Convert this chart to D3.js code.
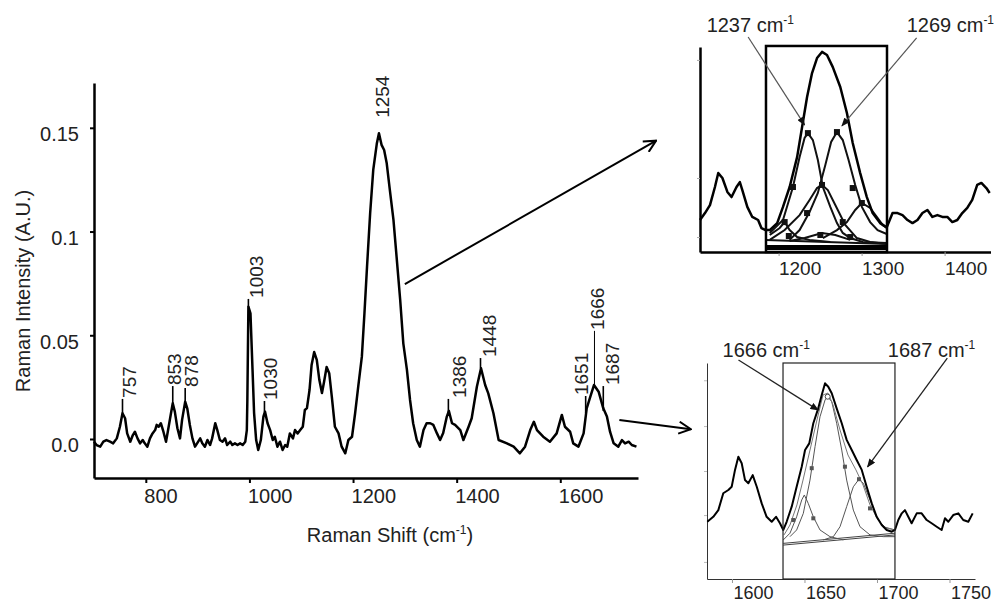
<!DOCTYPE html>
<meta charset="utf-8">
<body style="margin:0;background:#fff">
<script src="https://d3js.org/d3.v7.min.js"></script>
<script>

// ---- main spectrum ----
var shift = [700,705,712,718,724,731,737,744,750,755,760,764,770,775,779,784,789,794,798,803,
  808,813,818,821,825,829,834,839,843,848,852,856,861,866,870,876,880,885,890,895,
  899,905,909,914,919,924,928,934,938,943,948,953,957,963,967,972,977,982,987,992,
  995,996,998,1002,1006,1009,1013,1017,1022,1027,1030,1035,1040,1045,1049,1054,1059,1064,1069,1073,
  1078,1084,1088,1093,1098,1103,1107,1111,1116,1120,1125,1130,1135,1140,1144,1149,1154,1159,1165,1172,
  1178,1185,1191,1198,1204,1210,1217,1222,1227,1233,1239,1246,1250,1255,1260,1265,1271,1278,1284,1291,
  1297,1304,1310,1316,1323,1329,1336,1342,1349,1355,1362,1368,1374,1381,1385,1391,1397,1407,1413,1423,
  1429,1439,1447,1455,1461,1471,1481,1497,1510,1522,1532,1542,1549,1555,1567,1580,1593,1603,1609,1619,
  1625,1635,1645,1651,1658,1665,1674,1683,1690,1696,1703,1712,1719,1725,1732,1738,1747];
var intensity = [-0.0013,-0.0029,-0.0037,-0.0013,-0.0005,-0.0013,-0.0021,0.0003,0.0059,0.0124,0.0100,0.0027,-0.0013,0.0019,0.0035,0.0003,-0.0021,-0.0005,-0.0021,-0.0037,
  0.0003,0.0027,0.0043,0.0068,0.0059,0.0076,0.0035,-0.0013,0.0043,0.0116,0.0172,0.0132,0.0052,0.0003,0.0092,0.0180,0.0148,0.0068,0.0003,-0.0037,
  -0.0021,0.0003,-0.0021,-0.0037,-0.0005,-0.0029,0.0003,0.0076,0.0043,-0.0005,-0.0013,0.0003,-0.0029,-0.0013,-0.0029,-0.0021,-0.0029,-0.0021,-0.0029,-0.0013,
  0.0043,0.0188,0.0638,0.0606,0.0333,0.0125,-0.0005,-0.0053,-0.0005,0.0108,0.0132,0.0076,0.0043,-0.0005,0.0011,-0.0037,-0.0013,-0.0053,-0.0029,-0.0037,
  0.0027,0.0003,0.0043,0.0027,0.0043,0.0059,0.0140,0.0149,0.0236,0.0357,0.0419,0.0381,0.0284,0.0222,0.0275,0.0347,0.0317,0.0204,0.0059,0.0027,
  -0.0037,-0.0069,-0.0005,0.0011,0.0124,0.0252,0.0397,0.0606,0.0831,0.1088,0.1297,0.1426,0.1474,0.1418,0.1393,0.1329,0.1201,0.1056,0.0879,0.0670,
  0.0461,0.0333,0.0188,0.0076,-0.0005,-0.0037,0.0043,0.0076,0.0076,0.0068,0.0027,-0.0005,0.0029,0.0108,0.0135,0.0076,0.0068,0.0043,-0.0005,0.0059,
  0.0100,0.0252,0.0341,0.0260,0.0220,0.0124,-0.0005,-0.0021,-0.0037,-0.0069,-0.0037,0.0043,0.0083,0.0043,0.0011,-0.0013,0.0027,0.0116,0.0059,0.0035,
  -0.0021,-0.0037,0.0027,0.0148,0.0204,0.0260,0.0228,0.0148,0.0108,0.0035,-0.0021,-0.0037,-0.0005,-0.0021,-0.0013,-0.0029,-0.0037];

var xTickValues = [800, 1000, 1200, 1400, 1600];
var yTickValues = [0, 0.05, 0.1, 0.15];
var yTickLabels = ["0.0", "0.05", "0.1", "0.15"];

// peak annotations
var peakNames    = ["757","853","878","1003","1030","1254","1386","1448","1651","1666","1687"];
var peakAt       = [755, 852, 876, 998, 1029, 1250, 1384, 1446, 1649, 1666, 1683];
var peakTextAt   = [767, 854, 888, 1013, 1040, 1256, 1404, 1462, 1641, 1672, 1700];
var peakTextBase = [0.0198, 0.0260, 0.0251, 0.0680, 0.0188, 0.1548, 0.0198, 0.0395, 0.0212, 0.0526, 0.0260];
var peakLineEnd  = [0.0124, 0.0172, 0.0180, 0.0636, 0.0132, 0.1548, 0.0130, 0.0341, 0.0125, 0.0262, 0.0135];

// arrows pointing to the insets, [shift, intensity]
var arrowToTop    = [[1300, 0.0747], [1785, 0.1438]];
var arrowToBottom = [[1714, 0.0092], [1852, 0.0047]];

// ---- inset 1: 1160-1305 band fit ----
var inset1Spectrum = [[1080,15.6],[1086,19.0],[1092,22.9],[1098,31.7],[1102,38.5],[1107,36.1],[1113,29.3],[1118,26.8],
  [1124,31.7],[1128,34.1],[1131,30.2],[1137,22.0],[1143,17.1],[1150,15.6],[1154,11.7],[1159,10.7],
  [1164,10.7],[1173,14.1],[1180,22.0],[1188,31.7],[1197,46.3],[1203,61.0],[1209,75.6],[1215,87.3],[1221,94.6],
  [1227,97.6],[1233,96.1],[1240,90.2],[1249,80.5],[1257,67.8],[1264,53.2],[1273,38.5],[1281,26.8],[1288,19.0],
  [1297,14.1],[1305,12.0],[1312,19.0],[1318,19.0],[1324,18.0],[1330,15.6],[1336,14.1],[1342,15.6],[1348,19.0],
  [1354,20.5],[1360,17.1],[1366,18.0],[1372,17.1],[1378,17.1],[1384,14.6],[1390,15.6],[1396,19.0],[1402,21.5],
  [1408,25.4],[1414,32.7],[1419,33.7],[1425,31.2],[1429,28.8]];
var inset1Band1237 = [[1164,9.3],[1180,15.6],[1192,31.7],[1200,46.3],[1206,55.6],[1210,58.0],[1216,54.6],[1222,44.9],
  [1228,31.7],[1237,22.0],[1245,14.1],[1252,9.3],[1261,6.8],[1276,4.9],[1305,4.4]];
var inset1Band1269 = [[1188,5.9],[1200,10.7],[1212,19.5],[1222,28.8],[1231,42.4],[1238,53.7],[1245,58.5],[1252,54.6],
  [1259,44.9],[1267,32.7],[1275,22.0],[1285,14.6],[1294,10.7],[1305,8.8]];
var inset1BandMid = [[1164,5.9],[1182,10.7],[1200,18.0],[1212,25.4],[1221,31.2],[1227,32.7],[1234,30.2],[1243,22.9],
  [1255,13.2],[1269,6.8],[1285,4.9],[1305,3.9]];
var inset1BandRight = [[1228,6.8],[1245,10.7],[1257,14.6],[1267,20.5],[1275,23.9],[1285,21.5],[1293,17.1],[1300,13.2],[1305,11.7]];
var inset1BandLeft = [[1164,8.3],[1176,11.7],[1182,14.6],[1188,10.7],[1197,7.3],[1212,5.9],[1237,4.9]];
var inset1BandLow = [[1188,5.4],[1206,6.8],[1227,9.3],[1243,8.3],[1261,5.9]];
var inset1Baseline = [[1159.5,5.9],[1305.3,3.9]];
var inset1Squares = [[1182,14.6],[1210,58.0],[1245,58.5],[1227,32.7],[1209,19.0],[1264,31.2],[1192,31.7],
  [1275,23.9],[1225,8.3],[1252,14.6],[1187,7.8],[1261,7.3]];
var inset1Box = [1159.5, 1305.3];
var inset1Ticks = [1200, 1300, 1400];
var inset1YTicks = [7.3, 36.1, 93.7];
var inset1Notes = [{text: "1237", at: [1088, 107.3], from: [1138, 104.9], to: [1206, 62.0]},
                   {text: "1269", at: [1329, 107.3], from: [1341, 104.4], to: [1251, 61.5]}];

// ---- inset 2: amide I fit ----
var inset2Spectrum = [[1568.5,26.5],[1572.6,28.8],[1576.1,31.9],[1579.5,39.7],[1583.0,41.2],[1585.3,42.7],[1587.6,50.5],
  [1589.9,56.6],[1592.2,53.6],[1594.5,45.8],[1596.8,44.3],[1599.8,48.1],[1602.6,42.7],[1606.0,35.0],[1609.4,28.8],
  [1612.9,26.5],[1615.9,28.8],[1618.6,25.8],[1620.9,22.7],[1623.2,26.5],[1626.7,33.5],[1630.1,42.7],[1633.6,52.0],
  [1635.9,59.7],[1638.8,62.8],[1641.6,72.1],[1645.0,79.0],[1647.4,85.2],[1649.7,90.6],[1651.9,89.0],[1654.3,86.0],
  [1657.7,79.0],[1661.2,72.1],[1664.6,64.4],[1668.1,59.7],[1671.5,55.1],[1675.0,50.5],[1678.4,42.7],[1681.9,35.0],
  [1685.3,28.8],[1688.8,25.0],[1692.2,22.7],[1695.7,21.9],[1697.9,22.7],[1700.2,27.3],[1702.6,30.4],[1704.8,31.9],
  [1707.1,28.8],[1709.4,25.8],[1712.9,30.4],[1716.3,30.4],[1719.8,27.3],[1723.2,25.8],[1726.7,24.2],[1730.1,22.7],
  [1732.4,28.1],[1734.7,26.5],[1738.1,29.6],[1741.6,30.4],[1745.0,27.3],[1748.5,26.5],[1751.5,30.4]];
var inset2Sum = [[1621.4,20.4],[1625.5,25.0],[1630.3,34.3],[1634.5,45.8],[1639.3,59.7],[1644.1,73.6],[1648.3,85.2],
  [1651.7,86.1],[1655.2,80.6],[1660.0,69.0],[1665.5,57.4],[1671.0,50.5],[1675.9,43.5],[1680.7,34.3],[1686.2,27.3],
  [1691.7,23.6],[1697.9,22.7]];
var inset2Band1666 = [[1625.5,19.6],[1630.1,22.7],[1634.7,30.4],[1639.3,45.8],[1642.8,61.3],[1646.2,75.1],[1649.7,82.9],
  [1651.5,84.4],[1654.3,82.1],[1657.7,72.1],[1661.2,59.7],[1664.6,45.8],[1669.2,31.9],[1673.8,24.2],[1680.7,20.4],
  [1689.9,19.6],[1697.9,19.6]];
var inset2Band1651 = [[1620.9,18.1],[1625.5,21.2],[1630.1,28.8],[1633.6,36.6],[1635.4,38.9],[1638.1,35.0],[1641.6,28.8],
  [1646.2,22.7],[1653.1,19.6],[1662.3,18.1]];
var inset2Band1687 = [[1648.5,18.1],[1655.4,19.6],[1660.0,24.2],[1664.6,33.5],[1669.2,42.7],[1673.1,46.2],[1676.1,44.3],
  [1680.7,36.6],[1685.3,28.8],[1689.9,24.2],[1697.9,22.7]];
var inset2Baselines = [[[1620.9,16.5],[1697.9,21.2]], [[1620.9,15.7],[1697.9,20.4]]];
var inset2Squares = [[1627.8,27.3],[1641.6,28.1],[1640.5,51.3],[1663.4,52.0],[1673.1,46.2],[1680.7,32.7]];
var inset2Box = [1620.7, 1697.9];
var inset2Ticks = [1600, 1650, 1700, 1750];
var inset2YTicks = [7.9, 29.6, 50, 70.8, 92];
var inset2Notes = [{text: "1666", at: [1579, 102.8], from: [1590, 101.4], to: [1645, 78.2]},
                   {text: "1687", at: [1693, 102.8], from: [1734, 102.3], to: [1679, 51.9]}];

var font = "'Liberation Sans', Arial, sans-serif";
var plain = d3.format("d");

var svg = d3.select("body").append("svg")
    .attr("width", 999)
    .attr("height", 608)
    .style("font-family", font);

// arrow heads
var defs = svg.append("defs");
defs.append("marker")
    .attr("id", "openHead")
    .attr("markerUnits", "userSpaceOnUse")
    .attr("viewBox", "0 0 14 14")
    .attr("refX", 13).attr("refY", 7)
    .attr("markerWidth", 14).attr("markerHeight", 14)
    .attr("orient", "auto")
  .append("path")
    .attr("d", "M1,1 L13,7 L1,13")
    .attr("fill", "none")
    .attr("stroke", "#000")
    .attr("stroke-width", 2);
defs.append("marker")
    .attr("id", "fillHead")
    .attr("markerUnits", "userSpaceOnUse")
    .attr("viewBox", "0 0 10 8")
    .attr("refX", 9).attr("refY", 4)
    .attr("markerWidth", 9).attr("markerHeight", 7)
    .attr("orient", "auto")
  .append("path")
    .attr("d", "M0,0 L10,4 L0,8 Z")
    .attr("fill", "#111");

// small superscript helper: "... cm-1"
function cmText(sel, lead, size) {
  sel.append("tspan").text(lead + " cm");
  sel.append("tspan").text("-1").attr("font-size", Math.round(size * 0.62)).attr("dy", -size * 0.42);
}

// ================= main chart =================
var x = d3.scaleLinear().domain([700, 1750]).range([94, 638]);
var y = d3.scaleLinear().domain([-0.0188, 0.1716]).range([478, 83]);

var main = svg.append("g");

var yAxis = main.append("g")
    .attr("transform", "translate(94,0)")
    .call(d3.axisLeft(y)
      .tickValues(yTickValues)
      .tickFormat(function(d, i) { return yTickLabels[i]; })
      .tickSize(4).tickPadding(11).tickSizeOuter(0));
yAxis.select(".domain").attr("stroke-width", 2.5);
yAxis.selectAll(".tick line").attr("stroke-width", 2);
yAxis.selectAll("text").attr("font-size", 20).attr("font-family", font).attr("fill", "#222").attr("dy", "0.64em");

var xAxis = main.append("g")
    .attr("transform", "translate(0,478)")
    .call(d3.axisBottom(x)
      .tickValues(xTickValues)
      .tickFormat(plain)
      .tickSize(5).tickPadding(6).tickSizeOuter(0));
xAxis.select(".domain").attr("stroke-width", 2.5);
xAxis.selectAll(".tick line").attr("stroke-width", 2);
xAxis.selectAll("text").attr("font-size", 20).attr("font-family", font).attr("fill", "#222")
    .attr("text-anchor", "start").attr("dx", -2);

// axis titles
var xTitle = main.append("text")
    .attr("x", 390).attr("y", 542)
    .attr("text-anchor", "middle")
    .attr("font-size", 20)
    .attr("fill", "#222");
xTitle.append("tspan").text("Raman Shift (cm");
xTitle.append("tspan").text("-1").attr("font-size", 12).attr("dy", -8);
xTitle.append("tspan").text(")").attr("dy", 8);

main.append("text")
    .attr("transform", "translate(30,291) rotate(-90)")
    .attr("text-anchor", "middle")
    .attr("font-size", 20)
    .attr("fill", "#222")
    .text("Raman Intensity (A.U.)");

// spectrum
var line = d3.line()
    .x(function(d, i) { return x(shift[i]); })
    .y(function(d) { return y(d); });

main.append("path")
    .datum(intensity)
    .attr("d", line)
    .attr("fill", "none")
    .attr("stroke", "#000")
    .attr("stroke-width", 2.5)
    .attr("stroke-linejoin", "round");

// peak leaders and labels
main.selectAll(".leader")
    .data(peakNames.filter(function(d, i) { return peakLineEnd[i] < peakTextBase[i]; }))
    .enter().append("line")
    .attr("class", "leader")
    .each(function(d) {
      var i = peakNames.indexOf(d);
      d3.select(this)
        .attr("x1", x(peakAt[i])).attr("x2", x(peakAt[i]))
        .attr("y1", y(peakTextBase[i]) + 1)
        .attr("y2", y(peakLineEnd[i]));
    })
    .attr("stroke", "#000")
    .attr("stroke-width", function(d) { return d === "1666" ? 1 : 1.6; });

main.selectAll(".peak")
    .data(peakNames)
    .enter().append("text")
    .attr("class", "peak")
    .attr("transform", function(d, i) {
      return "translate(" + x(peakTextAt[i]) + "," + y(peakTextBase[i]) + ") rotate(-90)";
    })
    .attr("dy", "0.36em")
    .attr("font-size", 19)
    .attr("fill", "#222")
    .text(function(d) { return d; });

// arrows to insets
[arrowToTop, arrowToBottom].forEach(function(a) {
  main.append("line")
      .attr("x1", x(a[0][0])).attr("y1", y(a[0][1]))
      .attr("x2", x(a[1][0])).attr("y2", y(a[1][1]))
      .attr("stroke", "#000")
      .attr("stroke-width", 2)
      .attr("marker-end", "url(#openHead)");
});

// ================= inset 1 =================
var xTop = d3.scaleLinear().domain([1080, 1430]).range([700, 990.5]);
var yTop = d3.scaleLinear().domain([0, 100]).range([252, 47]);
var g1 = svg.append("g");

var pline1 = d3.line()
    .x(function(d) { return xTop(d[0]); })
    .y(function(d) { return yTop(d[1]); });

var t1 = g1.append("g")
    .attr("transform", "translate(0,252)")
    .call(d3.axisBottom(xTop).tickValues(inset1Ticks).tickFormat(plain).tickSize(4).tickPadding(6).tickSizeOuter(0));
t1.select(".domain").attr("stroke-width", 2.5);
t1.selectAll(".tick line").attr("x1", -21).attr("x2", -21).attr("stroke", "#999");
t1.selectAll("text").attr("font-size", 19).attr("font-family", font).attr("fill", "#222");

var l1 = g1.append("g")
    .attr("transform", "translate(700,0)")
    .call(d3.axisLeft(yTop).tickValues(inset1YTicks).tickFormat("").tickSize(3).tickSizeOuter(0));
l1.select(".domain").attr("stroke-width", 2.5);
l1.selectAll(".tick line").attr("stroke", "#aaa");

[inset1BandLow, inset1BandLeft, inset1BandRight, inset1BandMid, inset1Band1269, inset1Band1237].forEach(function(b) {
  g1.append("path")
      .datum(b)
      .attr("d", pline1)
      .attr("fill", "none")
      .attr("stroke", "#111")
      .attr("stroke-width", 2);
});
g1.append("path")
    .datum(inset1Baseline)
    .attr("d", pline1)
    .attr("fill", "none")
    .attr("stroke", "#111")
    .attr("stroke-width", 2);
g1.append("path")
    .datum(inset1Spectrum)
    .attr("d", pline1)
    .attr("fill", "none")
    .attr("stroke", "#000")
    .attr("stroke-width", 2.5)
    .attr("stroke-linejoin", "round");

g1.selectAll(".sq")
    .data(inset1Squares)
    .enter().append("rect")
    .attr("class", "sq")
    .attr("x", function(d) { return xTop(d[0]) - 3; })
    .attr("y", function(d) { return yTop(d[1]) - 3; })
    .attr("width", 6).attr("height", 6)
    .attr("fill", "#111");

g1.append("rect")
    .attr("x", xTop(inset1Box[0]))
    .attr("y", yTop(100.5))
    .attr("width", xTop(inset1Box[1]) - xTop(inset1Box[0]))
    .attr("height", yTop(0) - yTop(100.5))
    .attr("fill", "none")
    .attr("stroke", "#000")
    .attr("stroke-width", 2.5);
g1.append("line")
    .attr("x1", xTop(inset1Box[0])).attr("x2", xTop(inset1Box[1]))
    .attr("y1", yTop(2.2)).attr("y2", yTop(2.2))
    .attr("stroke", "#000")
    .attr("stroke-width", 5);

inset1Notes.forEach(function(n) {
  g1.append("line")
      .attr("x1", xTop(n.from[0])).attr("y1", yTop(n.from[1]))
      .attr("x2", xTop(n.to[0])).attr("y2", yTop(n.to[1]))
      .attr("stroke", "#555")
      .attr("stroke-width", 1.2)
      .attr("marker-end", "url(#fillHead)");
  var t = g1.append("text")
      .attr("x", xTop(n.at[0])).attr("y", yTop(n.at[1]))
      .attr("font-size", 20)
      .attr("fill", "#222");
  cmText(t, n.text, 20);
});

// ================= inset 2 =================
var xBot = d3.scaleLinear().domain([1600, 1700]).range([753, 898]);
var yBot = d3.scaleLinear().domain([0, 100]).range([579, 363]);
var g2 = svg.append("g");

var pline2 = d3.line()
    .x(function(d) { return xBot(d[0]); })
    .y(function(d) { return yBot(d[1]); });

var t2 = g2.append("g")
    .attr("transform", "translate(0,579)")
    .call(d3.axisBottom(xBot.copy().domain([1568.3, 1753.1]).range([707, 975]))
      .tickValues(inset2Ticks).tickFormat(plain).tickSize(4).tickPadding(3).tickSizeOuter(0));
t2.select(".domain").attr("stroke", "#333");
t2.selectAll(".tick line").attr("x1", -21).attr("x2", -21).attr("stroke", "#999");
t2.selectAll("text").attr("font-size", 18).attr("font-family", font).attr("fill", "#222");

var l2 = g2.append("g")
    .attr("transform", "translate(707,0)")
    .call(d3.axisLeft(yBot).tickValues(inset2YTicks).tickFormat("").tickSize(3).tickSizeOuter(0));
l2.select(".domain").attr("stroke", "#333");
l2.selectAll(".tick line").attr("stroke", "#bbb");

inset2Baselines.forEach(function(b) {
  g2.append("path").datum(b).attr("d", pline2)
      .attr("fill", "none").attr("stroke", "#444").attr("stroke-width", 1);
});
[inset2Band1651, inset2Band1687, inset2Band1666].forEach(function(b) {
  g2.append("path").datum(b).attr("d", pline2)
      .attr("fill", "none").attr("stroke", "#555").attr("stroke-width", 1);
});
g2.append("path").datum(inset2Sum).attr("d", pline2)
    .attr("fill", "none").attr("stroke", "#777").attr("stroke-width", 1);
g2.append("path")
    .datum(inset2Spectrum)
    .attr("d", pline2)
    .attr("fill", "none")
    .attr("stroke", "#000")
    .attr("stroke-width", 2)
    .attr("stroke-linejoin", "round");

g2.selectAll(".sq")
    .data(inset2Squares)
    .enter().append("rect")
    .attr("class", "sq")
    .attr("x", function(d) { return xBot(d[0]) - 2; })
    .attr("y", function(d) { return yBot(d[1]) - 2; })
    .attr("width", 4).attr("height", 4)
    .attr("fill", "#555");
g2.append("circle")
    .attr("cx", xBot(1651.5)).attr("cy", yBot(84.4)).attr("r", 2.5)
    .attr("fill", "#fff").attr("stroke", "#444");

g2.append("rect")
    .attr("x", xBot(inset2Box[0]))
    .attr("y", yBot(100))
    .attr("width", xBot(inset2Box[1]) - xBot(inset2Box[0]))
    .attr("height", yBot(0) - yBot(100))
    .attr("fill", "none")
    .attr("stroke", "#222")
    .attr("stroke-width", 1.2);

inset2Notes.forEach(function(n) {
  g2.append("line")
      .attr("x1", xBot(n.from[0])).attr("y1", yBot(n.from[1]))
      .attr("x2", xBot(n.to[0])).attr("y2", yBot(n.to[1]))
      .attr("stroke", "#222")
      .attr("stroke-width", 1.3)
      .attr("marker-end", "url(#fillHead)");
  var t = g2.append("text")
      .attr("x", xBot(n.at[0])).attr("y", yBot(n.at[1]))
      .attr("font-size", 20)
      .attr("fill", "#222");
  cmText(t, n.text, 20);
});

</script>
</body>
</html>
